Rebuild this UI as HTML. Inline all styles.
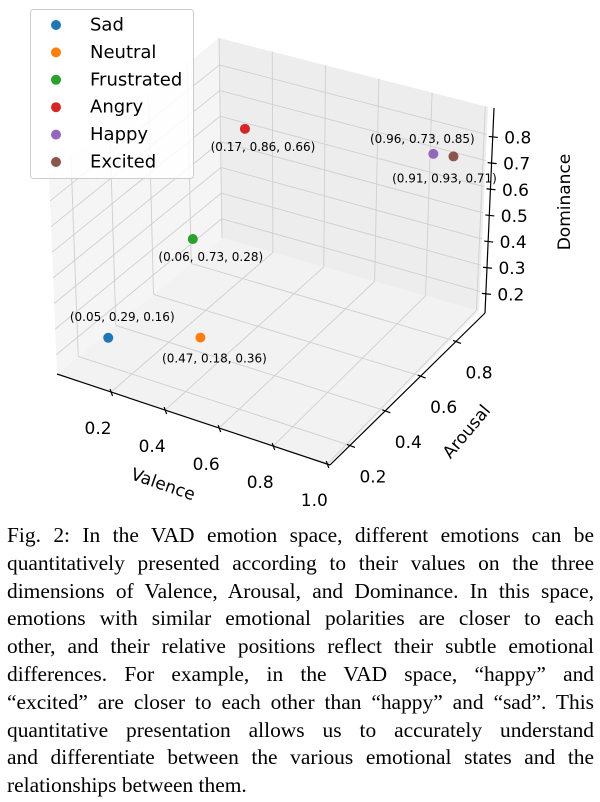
<!DOCTYPE html>
<html><head><meta charset="utf-8"><style>
html,body{margin:0;padding:0;background:#fff;}
body{width:600px;height:802px;position:relative;overflow:hidden;}
#chart{position:absolute;left:0;top:0;}
#caption{position:absolute;left:7px;top:522px;width:587px;font-family:"Liberation Serif",serif;font-size:21.5px;line-height:27.8px;color:#000;}
#caption div{text-align:justify;text-align-last:justify;white-space:nowrap;height:27.8px;}
#caption div.last{text-align-last:left;}
</style></head><body>
<svg id="chart" width="600" height="515" font-family="DejaVu Sans, sans-serif"></svg>
<div id="caption">
<div>Fig. 2: In the VAD emotion space, different emotions can be</div>
<div>quantitatively presented according to their values on the three</div>
<div>dimensions of Valence, Arousal, and Dominance. In this space,</div>
<div>emotions with similar emotional polarities are closer to each</div>
<div>other, and their relative positions reflect their subtle emotional</div>
<div>differences. For example, in the VAD space, “happy” and</div>
<div>“excited” are closer to each other than “happy” and “sad”. This</div>
<div>quantitative presentation allows us to accurately understand</div>
<div>and differentiate between the various emotional states and the</div>
<div class="last">relationships between them.</div>
</div>
<script>
(function(){
  const cap=document.getElementById('caption');
  const divs=[...cap.querySelectorAll('div')];
  let maxW=0;
  divs.forEach(d=>{const s=document.createElement('span');s.textContent=d.textContent;s.style.whiteSpace='nowrap';s.style.font='inherit';d.textContent='';d.appendChild(s);maxW=Math.max(maxW,s.getBoundingClientRect().width);});
  const fs=Math.min(24,21.5*585/maxW);
  cap.style.fontSize=fs.toFixed(2)+'px';
  divs.forEach(d=>{d.textContent=d.firstChild.textContent;});
})();
</script>
<script>
const emotions = ["Sad","Neutral","Frustrated","Angry","Happy","Excited"];
const valence = [0.05,0.47,0.06,0.17,0.96,0.91];
const arousal = [0.29,0.18,0.73,0.86,0.73,0.93];
const dominance = [0.16,0.36,0.28,0.66,0.85,0.71];
const colors = ["#1f77b4","#ff7f0e","#2ca02c","#d62728","#9467bd","#8c564b"];
const xTicks = [0.2,0.4,0.6,0.8,1.0];
const yTicks = [0.2,0.4,0.6,0.8];
const zTicks = [0.2,0.3,0.4,0.5,0.6,0.7,0.8];
const labelOffsets = [[14,-21],[14,21],[18,18],[18,18],[-11,-15],[-9,22]];

const XL=[0,1.01], YL=[0.087,0.964], ZL=[0.125,0.905];
const C={"000":[57,374],"100":[330,465],"010":[222,238],"110":[479,311],
"001":[49,174],"101":[336,240],"011":[219,38],"111":[488,107]};
function lerp(a,b,t){return [a[0]+(b[0]-a[0])*t,a[1]+(b[1]-a[1])*t];}
function proj(x,y,z){
  const u=(x-XL[0])/(XL[1]-XL[0]), v=(y-YL[0])/(YL[1]-YL[0]), w=(z-ZL[0])/(ZL[1]-ZL[0]);
  const b=lerp(lerp(C["000"],C["100"],u),lerp(C["010"],C["110"],u),v);
  const t=lerp(lerp(C["001"],C["101"],u),lerp(C["011"],C["111"],u),v);
  return lerp(b,t,w);
}
const svg=document.getElementById('chart');
const NS="http://www.w3.org/2000/svg";
function mk(tag,attrs,parent){const e=document.createElementNS(NS,tag);for(const k in attrs)e.setAttribute(k,attrs[k]);(parent||svg).appendChild(e);return e;}
function poly(pts){return pts.map(p=>p[0].toFixed(1)+","+p[1].toFixed(1)).join(" ");}
let p=mk('polygon',{points:poly([proj(XL[0],YL[0],ZL[0]),proj(XL[1],YL[0],ZL[0]),proj(XL[1],YL[1],ZL[0]),proj(XL[0],YL[1],ZL[0])]),fill:"#f2f2f2"});

p=mk('polygon',{points:poly([proj(XL[0],YL[0],ZL[0]),proj(XL[0],YL[1],ZL[0]),proj(XL[0],YL[1],ZL[1]),proj(XL[0],YL[0],ZL[1])]),fill:"#f5f5f5"});

p=mk('polygon',{points:poly([proj(XL[0],YL[1],ZL[0]),proj(XL[1],YL[1],ZL[0]),proj(XL[1],YL[1],ZL[1]),proj(XL[0],YL[1],ZL[1])]),fill:"#ededed"});

function gl(a,b,name){const l=mk('line',{x1:a[0],y1:a[1],x2:b[0],y2:b[1],stroke:"#cfcfcf","stroke-width":0.9});
}
xTicks.forEach(x=>{gl(proj(x,YL[0],ZL[0]),proj(x,YL[1],ZL[0]),'grid-floor-x');gl(proj(x,YL[1],ZL[0]),proj(x,YL[1],ZL[1]),'grid-back-x');});
yTicks.forEach(y=>{gl(proj(XL[0],y,ZL[0]),proj(XL[1],y,ZL[0]),'grid-floor-y');gl(proj(XL[0],y,ZL[0]),proj(XL[0],y,ZL[1]),'grid-left-y');});
zTicks.forEach(z=>{gl(proj(XL[0],YL[0],z),proj(XL[0],YL[1],z),'grid-left-z');gl(proj(XL[0],YL[1],z),proj(XL[1],YL[1],z),'grid-back-z');});
gl(proj(XL[0],YL[1],ZL[0]),proj(XL[0],YL[1],ZL[1]),'pane-edge');
function axl(a,b,name){const l=mk('line',{x1:a[0],y1:a[1],x2:b[0],y2:b[1],stroke:"#000","stroke-width":1.2});
}
axl(proj(XL[0],YL[0],ZL[0]),proj(XL[1],YL[0],ZL[0]),'valence-axis');
{const a=proj(XL[1],YL[0],ZL[0]),b=proj(XL[1],YL[1],ZL[0]);axl(a,[b[0]+6,b[1]+2],'arousal-axis');}
const dx0=6;
{const a=proj(XL[1],YL[1],ZL[0]),b=proj(XL[1],YL[1],ZL[1]);axl([a[0]+dx0,a[1]+2],[b[0]+dx0,b[1]+1],'dominance-axis');}
function txt(s,x,y,size,name,rot){const t=mk('text',{x:x,y:y,"font-size":size,"text-anchor":"middle","dominant-baseline":"central",fill:"#000"});
if(rot)t.setAttribute('transform',`rotate(${rot} ${x} ${y})`);t.textContent=s;return t;}
xTicks.forEach(x=>{const q=proj(x,YL[0],ZL[0]);axl([q[0]-1,q[1]-3],[q[0]+1.5,q[1]+4],'valence-tick');txt(x.toFixed(1),q[0]-13,q[1]+37,17,'valence-tick-label');});
yTicks.forEach(y=>{const q0=proj(XL[1],y,ZL[0]);const f=(y-YL[0])/(YL[1]-YL[0]);const q=[q0[0]+6*f,q0[1]+2*f];axl([q[0]-3,q[1]-1],[q[0]+5,q[1]+2],'arousal-tick');txt(y.toFixed(1),q[0]+23,q[1]+32,17,'arousal-tick-label');});
zTicks.forEach(z=>{const q=proj(XL[1],YL[1],z);axl([q[0]+dx0-4,q[1]+2],[q[0]+dx0+5,q[1]+3],'dominance-tick');txt(z.toFixed(1),q[0]+31,q[1]+4,17,'dominance-tick-label');});
txt("Valence",163,485,17,'valence-axis-title',19);
txt("Arousal",467,432,17,'arousal-axis-title',-50);
txt("Dominance",565,202,17,'dominance-axis-title',-90);
emotions.forEach((e,i)=>{const q=proj(valence[i],arousal[i],dominance[i]);
const c=mk('circle',{cx:q[0],cy:q[1],r:5,fill:colors[i]});


const s=`(${valence[i].toFixed(2)}, ${arousal[i].toFixed(2)}, ${dominance[i].toFixed(2)})`;
txt(s,q[0]+labelOffsets[i][0],q[1]+labelOffsets[i][1],12,'point-label-'+e.toLowerCase());});
const lg=mk('g',{});


mk('rect',{x:30.5,y:9.5,width:163,height:169,rx:3,fill:"#fff","fill-opacity":0.85,stroke:"#ccc"},lg);
emotions.forEach((e,i)=>{const y=25+i*27.4;
const c=mk('circle',{cx:56,cy:y,r:5,fill:colors[i]},lg);


const t=mk('text',{x:90,y:y,"font-size":18,"dominant-baseline":"central",fill:"#000"},lg);t.textContent=e;

});
</script>
</body></html>
